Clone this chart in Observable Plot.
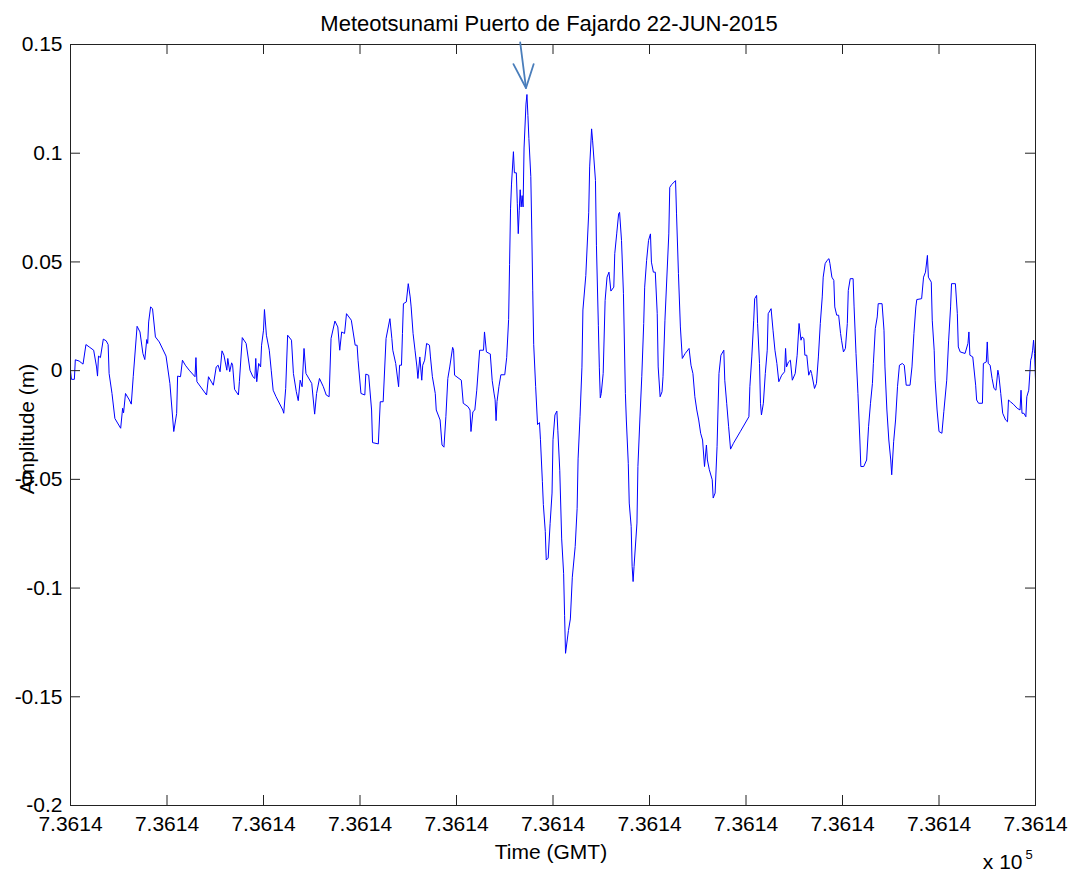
<!DOCTYPE html>
<html>
<head>
<meta charset="utf-8">
<script src="https://cdn.jsdelivr.net/npm/d3@7"></script>
<script src="https://cdn.jsdelivr.net/npm/@observablehq/plot@0.6"></script>
<style>
  html, body { margin: 0; padding: 0; background: #fff; }
</style>
</head>
<body>
<div id="chart"></div>
<script>
// Tide-gauge record: [time (minutes from start of window), amplitude (m)]
const samples = [
  [0,0],[1,-0.004],[4,-0.004],[5,0.005],[9,0.0044],[13,0.003],[16,0.012],[20,0.0107],[24,0.0094],[27,0.0017],[28,-0.0025],[29,0.0067],[31,0.006],[34,0.0145],[37,0.0137],[39,0.012],[40,-0.0013],[43,-0.0105],[46,-0.022],[52,-0.0265],[54,-0.0173],[55,-0.0194],[57,-0.0105],[61,-0.0135],[63,-0.0154],[65,-0.0028],[69,0.0204],[72,0.0178],[75,0.0079],[77,0.0051],[79,0.0143],[80,0.0125],[81,0.0224],[83,0.0293],[85,0.0285],[88,0.0155],[92,0.0132],[99,0.0067],[103,-0.0059],[107,-0.028],[110,-0.0197],[111,-0.0025],[114,-0.0028],[116,0.0048],[119,0.0025],[123,0.0002],[129,-0.0028],[130,0.006],[131,-0.0051],[141,-0.0112],[143,-0.0028],[148,-0.0067],[151,0.0017],[153,0.0025],[155,-0.0005],[157,0.0091],[159,0.0071],[162,0.0002],[163,0.0056],[165,-0.0005],[167,0.0036],[168,0.0025],[170,-0.0086],[174,-0.0112],[175,-0.0051],
  [178,0.0152],[182,0.0125],[186,0.0002],[189,-0.0028],[191,-0.0036],[192,0.0056],[193,-0.0051],[195,0.0033],[197,0.0017],[198,0.0117],[200,0.0186],[201,0.0281],[203,0.0163],[206,0.0094],[208,0.0002],[210,-0.009],[213,-0.012],[220,-0.0181],[221,-0.0196],[223,-0.0082],[225,0.0163],[229,0.014],[231,-0.0013],[234,-0.0097],[236,-0.0138],[238,-0.0044],[240,-0.0074],[242,0.0102],[244,-0.0013],[250,-0.0059],[253,-0.02],[255,-0.0105],[258,-0.0036],[262,-0.0074],[265,-0.0112],[268,-0.012],[270,0.0148],[274,0.0228],[277,0.0201],[279,0.0094],[281,0.0178],[284,0.0171],[286,0.0262],[291,0.0232],[295,0.0117],[297,0.0117],[298,0.0048],[301,-0.0105],[305,-0.0112],[306,-0.0016],[309,-0.0021],[312,-0.0181],[313,-0.0331],[319,-0.0337],[321,-0.0143],[324,-0.0143],[327,0.0148],[331,0.0239],[333,0.0148],[334,0.0094],[337,0.0033],[340,-0.0074],[341,0.0025],[343,0.0025],
  [344,0.0171],[345,0.0308],[348,0.0316],[350,0.04],[352,0.0339],[353,0.0293],[355,0.0171],[357,0.0094],[359,0.0017],[360,-0.0036],[362,0.0063],[364,-0.0044],[365,0.0025],[367,0.0048],[369,0.0125],[372,0.0117],[373,0.0063],[375,-0.0028],[378,-0.0105],[379,-0.0181],[383,-0.0227],[385,-0.0342],[387,-0.0352],[389,-0.0212],[391,-0.0036],[393,0.0017],[396,0.0107],[397,0.0094],[398,-0.0021],[405,-0.0044],[407,-0.015],[412,-0.0166],[414,-0.0181],[415,-0.028],[417,-0.0189],[419,-0.0181],[421,-0.009],[424,0.0094],[428,0.0094],[429,0.0178],[431,0.0086],[434,0.0079],[435,0.0077],[437,-0.0046],[439,-0.0107],[440,-0.0134],[441,-0.023],[442,-0.0142],[444,-0.0072],[446,-0.0019],[450,-0.0019],[452,0.006],[454,0.0235],[455,0.0489],[456,0.0744],[457,0.0858],[459,0.1007],[460,0.091],[462,0.091],[463,0.077],[464,0.063],[465,0.0735],[466,0.0832],[467,0.0753],[468,0.0805],[469,0.0753],[470,0.1024],[472,0.1226],[473,0.127],[474,0.1174],[475,0.1068],[477,0.0893],[478,0.0647],[479,0.0367],[480,0.0121],[482,-0.0072],[484,-0.0248],[486,-0.0239],[487,-0.0318],[489,-0.0511],[490,-0.0616],[492,-0.0739],[493,-0.0871],[495,-0.0862],[497,-0.0704],[499,-0.0563],[500,-0.0318],[502,-0.0204],[504,-0.0186],[505,-0.0274],[507,-0.0458],[509,-0.0774],[511,-0.0932],[512,-0.1125],[513,-0.13],[516,-0.1195],[518,-0.1142],[520,-0.095],[523,-0.0809],[525,-0.0633],[526,-0.0406],[528,-0.0212],[530,0.0016],[531,0.0279],[534,0.0437],[537,0.0726],[538,0.0937],[540,0.1112],[541,0.106],[544,0.0875],[545,0.0577],[547,0.0209],[548,0.0016],[549,-0.0125],[550,-0.0105],[552,-0.0013],[554,0.0323],[556,0.043],[558,0.0453],[560,0.0366],[563,0.0384],[564,0.0538],[566,0.0629],[568,0.0721],[569,0.0728],[571,0.0599],[573,0.0354],[575,-0.0105],[576,-0.0227],[578,-0.0426],[579,-0.0609],[581,-0.0716],[582,-0.09],[583,-0.097],[584,-0.09],[587,-0.0701],[588,-0.0441],[590,-0.0227],[592,-0.0028],[594,0.0217],[595,0.0384],[597,0.0507],[599,0.0599],[601,0.0629],[602,0.0499],[604,0.0453],[606,0.0453],[608,0.0262],[609,0.0017],[611,-0.012],[613,-0.0097],[614,-0.0028],[616,0.0232],[620,0.0629],[621,0.0843],[623,0.0856],[627,0.0874],[628,0.0721],[630,0.0446],[632,0.0201],[634,0.0056],[637,0.0079],[641,0.0102],[643,0.0025],[645,-0.0013],[647,-0.012],[649,-0.0181],[651,-0.0227],[653,-0.0288],[655,-0.0319],[657,-0.0441],[659,-0.0342],[660,-0.0411],[662,-0.0456],[665,-0.0502],[666,-0.0586],[668,-0.0563],[670,-0.035],[671,-0.0181],[672,-0.0013],[674,0.0071],[677,0.0094],[678,-0.0044],[680,-0.015],[682,-0.0258],[684,-0.0361],[687,-0.0334],[694,-0.0281],[703,-0.0212],[704,-0.0074],[706,0.0063],[708,0.0232],[709,0.0331],[711,0.0346],[712,0.0217],[714,0.0033],[715,-0.015],[716,-0.0204],[718,-0.015],[720,-0.0013],[722,0.0094],[723,0.0262],[726,0.0285],[728,0.0186],[730,0.0094],[732,0.0033],[734,-0.0051],[737,-0.0021],[740,-0.0005],[741,0.0102],[742,0.0017],[744,0.004],[746,0.0048],[748,-0.0044],[751,-0.0013],[753,0.0071],[755,0.0217],[757,0.014],[758,0.0155],[760,0.0148],[761,0.0071],[763,0.0071],[765,-0.0021],[767,0.0002],[768,-0.0013],[771,-0.0082],[773,-0.0059],[775,0.0063],[777,0.0217],[779,0.0339],[780,0.043],[782,0.0492],[784,0.0507],[786,0.0515],[787,0.0492],[789,0.043],[791,0.0415],[792,0.0293],[794,0.0255],[796,0.0255],[798,0.0171],[799,0.014],[801,0.0086],[803,0.0102],[805,0.0217],[806,0.0369],[808,0.0423],[811,0.0423],[812,0.0293],[814,0.0079],[816,-0.0105],[818,-0.0319],[819,-0.0441],[822,-0.0441],[825,-0.0411],[827,-0.0258],[829,-0.015],[831,-0.0059],[832,0.0033],[834,0.0194],[836,0.0247],[837,0.0308],[841,0.0308],[843,0.0186],[844,0.0017],[846,-0.0181],[848,-0.0319],[850,-0.0411],[851,-0.0479],[853,-0.0327],[855,-0.0227],[857,-0.0074],[859,0.0025],[862,0.0033],[864,0.0025],[866,-0.0067],[870,-0.0067],[872,0.0017],[874,0.0171],[876,0.0293],[877,0.0327],[882,0.0331],[884,0.043],[886,0.0453],[888,0.053],[889,0.043],[892,0.0407],[893,0.0232],[895,0.0094],[896,-0.0044],[898,-0.0181],[900,-0.028],[903,-0.0288],[905,-0.0189],[908,-0.0044],[910,0.014],[912,0.0293],[913,0.04],[917,0.04],[919,0.0262],[920,0.0109],[922,0.0086],[927,0.0079],[930,0.0125],[931,0.0178],[932,0.0071],[935,0.0063],[938,-0.0067],[939,-0.0135],[941,-0.015],[945,-0.015],[946,0.0033],[949,0.004],[950,0.0132],[951,0.0033],[953,0.0025],[955,-0.0036],[957,-0.0082],[959,-0.009],[961,0.0002],[962,-0.0021],[964,-0.0105],[966,-0.0196],[969,-0.0227],[971,-0.0235],[972,-0.0135],[974,-0.0143],[977,-0.0154],[981,-0.0173],[984,-0.0181],[985,-0.009],[986,-0.0196],[988,-0.0196],[990,-0.0212],[991,-0.012],[993,-0.009],[995,0.0048],[996,0.0063],[997,0.0094],[998,0.014],[999,0.0079],[1000,-0.004]
];

const xTicks = [0, 100, 200, 300, 400, 500, 600, 700, 800, 900, 1000];
const xTickLabel = "7.3614";
const yTicks = [-0.2, -0.15, -0.1, -0.05, 0, 0.05, 0.1, 0.15];

const titleText = "Meteotsunami Puerto de Fajardo 22-JUN-2015";
const xLabel = "Time (GMT)";
const yLabel = "Amplitude (m)";
const exponentBase = "x 10";
const exponentPower = "5";

// Annotation arrow pointing at the peak (time, amplitude)
const arrowShaft = [[466, 0.151], [472, 0.13]];
const arrowHead = [[459, 0.141], [472, 0.13], [480, 0.141]];

const font = "'Liberation Sans', Arial, Helvetica, sans-serif";

const chart = Plot.plot({
  width: 1078,
  height: 880,
  marginLeft: 70,
  marginRight: 43,
  marginTop: 44,
  marginBottom: 75,
  style: { fontFamily: font, fontSize: "21px", color: "#000", background: "#fff", overflow: "visible" },
  x: { domain: [0, 1000] },
  y: { domain: [-0.2, 0.15] },
  marks: [
    Plot.line(samples, { x: d => d[0], y: d => d[1], stroke: "#0000ff", strokeWidth: 1 }),
    Plot.frame({ stroke: "#222", strokeWidth: 1 }),
    Plot.tickX(xTicks, { x: d => d, insetTop: 751, stroke: "#222" }),
    Plot.tickX(xTicks, { x: d => d, insetBottom: 751, stroke: "#222" }),
    Plot.tickY(yTicks, { y: d => d, insetRight: 955, stroke: "#222" }),
    Plot.tickY(yTicks, { y: d => d, insetLeft: 955, stroke: "#222" }),
    Plot.axisX({ ticks: xTicks, tickFormat: () => xTickLabel, tickSize: 0, tickPadding: 11, label: null, fill: "#000" }),
    Plot.axisY({ ticks: yTicks, tickFormat: d => String(d), tickSize: 0, tickPadding: 8, label: null, fill: "#000" }),
    Plot.line(arrowShaft, { x: d => d[0], y: d => d[1], stroke: "#4a7ebb", strokeWidth: 1.8 }),
    Plot.line(arrowHead, { x: d => d[0], y: d => d[1], stroke: "#4a7ebb", strokeWidth: 1.8 }),
    Plot.text([titleText], { text: d => d, frameAnchor: "top", lineAnchor: "bottom", dx: -4, dy: -14, fontSize: 22, fill: "#000" }),
    Plot.text([xLabel], { text: d => d, frameAnchor: "bottom", lineAnchor: "bottom", dx: -2, dy: 53, fill: "#000" }),
    Plot.text([yLabel], { text: d => d, frameAnchor: "left", rotate: -90, textAnchor: "middle", lineAnchor: "middle", dx: -43, dy: 4, fill: "#000" }),
    Plot.text([exponentBase], { text: d => d, frameAnchor: "bottom-right", textAnchor: "end", lineAnchor: "bottom", dx: -13, dy: 63, fill: "#000" }),
    Plot.text([exponentPower], { text: d => d, frameAnchor: "bottom-right", textAnchor: "start", lineAnchor: "bottom", dx: -10, dy: 53, fontSize: 13, fill: "#000" })
  ]
});

document.getElementById("chart").appendChild(chart);
</script>
</body>
</html>
